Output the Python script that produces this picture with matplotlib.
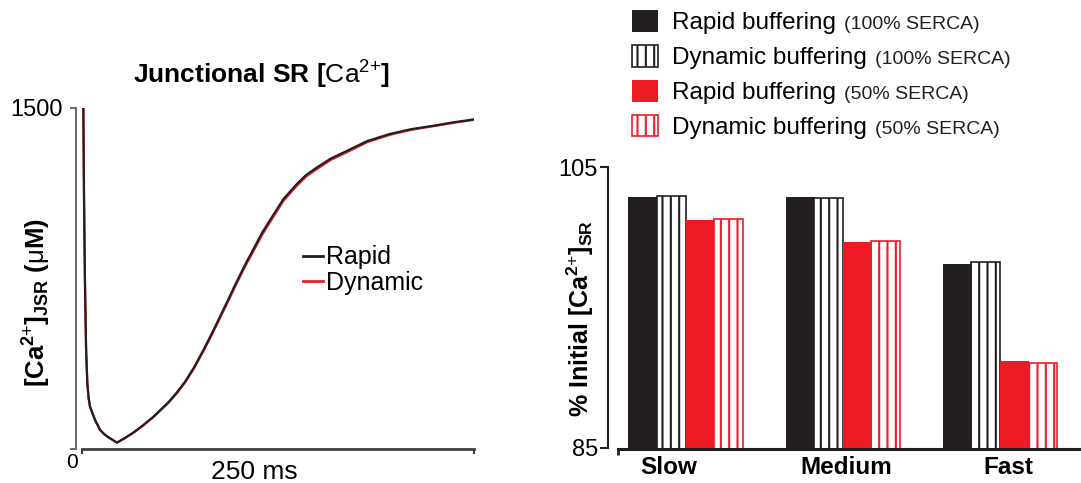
import matplotlib
matplotlib.use('Agg')
import matplotlib.pyplot as plt
import numpy as np

plt.rcParams['font.family'] = ['Liberation Sans', 'DejaVu Sans']
plt.rcParams['mathtext.fontset'] = 'custom'
plt.rcParams['mathtext.rm'] = 'Liberation Sans'
plt.rcParams['mathtext.bf'] = 'Liberation Sans:bold'
plt.rcParams['mathtext.it'] = 'Liberation Sans:italic'
plt.rcParams['hatch.linewidth'] = 1.5

# ---------------- data: junctional SR [Ca2+] time course ----------------
time_ms = [0.85, 1.3, 1.9, 2.6, 3.4, 4.2, 5.1, 8.3, 11.5, 14.5, 17.9, 22.3,
           27.0, 32.7, 39.0, 45.5, 55.0, 60.5, 65.7, 71.5, 77.4, 82.7, 88.0, 92.8,
           97.6, 103.5, 109.3, 115.2, 121.0, 128.5, 136.9, 143.0, 149.7, 158.5,
           168.8, 182.0, 196.4, 210.0, 224.1, 237.0, 250.0]
rapid_ca = [1500, 1094, 729, 440, 289, 225, 186, 128, 84, 63, 47, 28,
            47, 72, 105, 142, 205, 249, 296, 360, 435, 507, 582, 651,
            721, 804, 879, 955, 1019, 1100, 1165, 1206, 1238, 1277,
            1311, 1355, 1386, 1407, 1422, 1437, 1450]
dynamic_ca = [1500, 1094, 729, 440, 289, 225, 186, 128, 84, 63, 47, 28,
              46, 71, 103, 140, 202, 245, 292, 355, 430, 501, 576, 644,
              714, 796, 870, 946, 1010, 1092, 1157, 1199, 1231, 1271,
              1305, 1350, 1382, 1404, 1420, 1435, 1448]

# ---------------- data: % initial [Ca2+]SR ----------------
conditions = ['Slow', 'Medium', 'Fast']
rapid_100 = [102.84, 102.84, 98.10]
dynamic_100 = [102.91, 102.82, 98.21]
rapid_50 = [101.23, 99.64, 91.17]
dynamic_50 = [101.30, 99.71, 91.05]
series_labels = ['Rapid buffering', 'Dynamic buffering', 'Rapid buffering', 'Dynamic buffering']
series_notes = ['(100% SERCA)', '(100% SERCA)', '(50% SERCA)', '(50% SERCA)']

BLACK = '#231f20'
RED = '#ed1c24'
GRAY = '#6d6e71'

W, H = 1081, 483
DPI = 100
fig = plt.figure(figsize=(W / DPI, H / DPI), dpi=DPI)


def rect(l, t, r, b):
    return [l / W, 1 - b / H, (r - l) / W, (b - t) / H]


def px(x, y):
    return (x / W, 1 - y / H)


# ================= left panel =================
ax1 = fig.add_axes(rect(76, 108, 474, 449))
ax1.plot(time_ms, dynamic_ca, color=RED, lw=1.6, label='Dynamic')
ax1.plot(time_ms, rapid_ca, color=BLACK, lw=1.6, label='Rapid')
ax1.set_xlim(-3.83, 250)
ax1.set_ylim(0, 1500)
for s in ['top', 'right']:
    ax1.spines[s].set_visible(False)
ax1.spines['left'].set_color(GRAY)
ax1.spines['left'].set_linewidth(1.5)
ax1.spines['bottom'].set_bounds(0, 250)
ax1.spines['bottom'].set_color('#414042')
ax1.spines['bottom'].set_linewidth(2)
ax1.set_yticks([0, 1500])
ax1.set_yticklabels(['', '1500'])
ax1.tick_params(axis='y', length=4.3, width=1.5, color=GRAY, pad=5, labelsize=17)
ax1.set_xticks([0, 250])
ax1.set_xticklabels(['', ''])
ax1.tick_params(axis='x', length=3.6, width=1.5, color='#414042')
ax1.text(-0.01, -0.041, '0', transform=ax1.transAxes, ha='center', va='center', fontsize=15)
ax1.set_xlabel('250 ms', fontsize=19)
ax1.xaxis.set_label_coords((254 - 76) / 398, (449 - 460) / 341)
h, l = ax1.get_legend_handles_labels()
leg1 = ax1.legend(h[::-1], l[::-1], loc='center left', bbox_to_anchor=px(303, 270),
                  bbox_transform=fig.transFigure, frameon=False, fontsize=18,
                  handlelength=0.8, handletextpad=0.1, labelspacing=0.05,
                  borderpad=0, borderaxespad=0)
for line in leg1.get_lines():
    line.set_linewidth(2)

fig.text(*px(261, 75), r'$\mathbf{Junctional\ SR\ [}\mathrm{Ca}^{\mathrm{2}{+}}\mathbf{]}$',
         ha='center', va='center', fontsize=19)
fig.text(*px(37, 303), r'$\mathbf{[Ca}^{\mathbf{2}{+}}\mathbf{]}_{\mathbf{JSR}}\mathbf{\ (}\mathrm{\mu}\mathbf{M)}$',
         ha='center', va='center', rotation=90, fontsize=18.5)

# ================= right panel =================
ax2 = fig.add_axes(rect(608, 167, 1081, 448))
x = np.arange(len(conditions))
w = 0.182
b1 = ax2.bar(x - 1.5 * w, rapid_100, w, color=BLACK, linewidth=0)
b2 = ax2.bar(x - 0.5 * w, dynamic_100, w, color='white', edgecolor=BLACK, hatch='||', linewidth=1.2)
b3 = ax2.bar(x + 0.5 * w, rapid_50, w, color=RED, linewidth=0)
b4 = ax2.bar(x + 1.5 * w, dynamic_50, w, color='white', edgecolor=RED, hatch='||', linewidth=1.2)
ax2.set_xlim(-0.493, 2.515)
ax2.set_ylim(85, 105)
for s in ['top', 'right']:
    ax2.spines[s].set_visible(False)
ax2.spines['left'].set_color(BLACK)
ax2.spines['left'].set_linewidth(1.5)
ax2.spines['bottom'].set_position(('outward', 1))
ax2.spines['bottom'].set_bounds(-0.429, 2.515)
ax2.spines['bottom'].set_linewidth(2.2)
ax2.spines['bottom'].set_color(BLACK)
ax2.set_yticks([85, 105])
ax2.tick_params(axis='y', length=5.8, width=1.5, color=BLACK, pad=1.5, labelsize=17)
label_shift = [-0.11, 0.02, 0.05]
ax2.set_xticks(x + np.array(label_shift))
ax2.set_xticklabels(conditions, fontweight='bold', fontsize=17.5)
ax2.set_xticks([-0.429], minor=True)
ax2.tick_params(axis='x', which='major', length=0, pad=5)
ax2.tick_params(axis='x', which='minor', length=4.3, width=2, color=BLACK)

fig.text(*px(580, 318), r'$\mathbf{\%\ Initial\ [Ca}^{\mathbf{2}{+}}\mathbf{]}_{\mathbf{SR}}$',
         ha='center', va='center', rotation=90, fontsize=18)

leg2 = fig.legend([b1, b2, b3, b4], series_labels, loc='upper left',
                  bbox_to_anchor=px(632, 10), frameon=False, fontsize=17.5,
                  handlelength=1.05, handleheight=1.0, handletextpad=0.6,
                  labelspacing=0.44, borderpad=0, borderaxespad=0)

fig.canvas.draw()
r = fig.canvas.get_renderer()
fs_main = 17.5 * DPI / 72
for t, note in zip(leg2.get_texts(), series_notes):
    bb = t.get_window_extent(r)
    base = bb.y0 + 0.212 * fs_main
    fig.text((bb.x1 + 8) / W, base / H, note, ha='left', va='baseline', fontsize=14,
             color=BLACK)

fig.savefig('out.png', dpi=DPI)
